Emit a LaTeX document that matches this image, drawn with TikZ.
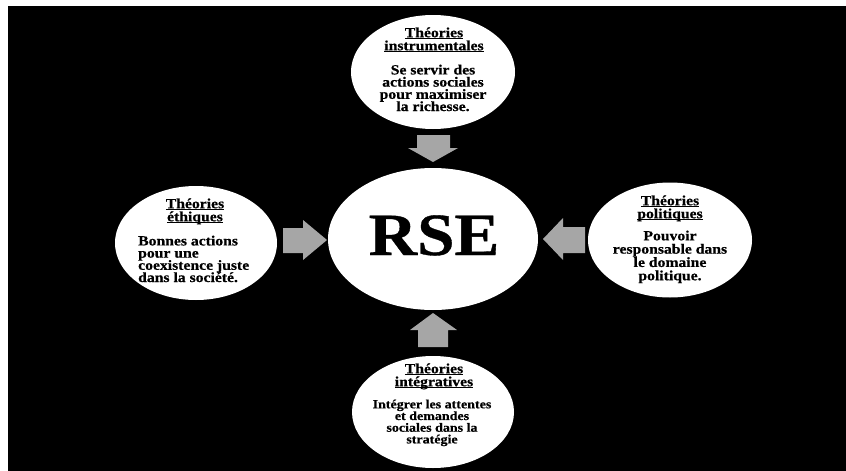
\documentclass[tikz,border=0pt]{standalone}
\usepackage{fontspec}
\setmainfont{Liberation Serif}[FakeStretch=1.12, BoldFeatures={FakeBold=0.6}]
\usetikzlibrary{shapes.geometric}
\definecolor{arrowgray}{HTML}{A6A6A6}
\newcommand\myul[1]{\setbox0\hbox{#1}\rlap{\rule[-2.2pt]{\wd0}{1.1pt}}\box0}
\begin{document}
\begin{tikzpicture}[x=1pt,y=-1pt,
  bubble/.style={ellipse, fill=white, inner sep=0pt},
  ttl/.style={anchor=north, align=center, inner sep=0pt,
    font={\bfseries\fontsize{14}{13}\selectfont\lineskiplimit=-20pt\lineskip=0pt}},
  bodytxt/.style={anchor=north, align=center, inner sep=0pt,
    font={\bfseries\fontsize{14}{12.2}\selectfont\lineskiplimit=-20pt\lineskip=0pt}},
  blockarrow/.style={fill=arrowgray}]
\useasboundingbox (0,0) rectangle (846,471);
\fill[white] (0,0) rectangle (846,471);
\fill[black] (8,6) rectangle (846,471);

% ellipses
\node[bubble, minimum width=210, minimum height=142] (rse) at (433,239) {};
\node[bubble, minimum width=164, minimum height=114] (top) at (433,72) {};
\node[bubble, minimum width=162, minimum height=114] (left) at (196,243) {};
\node[bubble, minimum width=164, minimum height=115] (right) at (670,240) {};
\node[bubble, minimum width=162, minimum height=112] (bottom) at (433,412) {};

% centre text
\node[anchor=base, inner sep=0pt, font={\bfseries\fontsize{60}{60}\selectfont}] (rsetxt) at (434,255) {RSE};

% top
\node[ttl] (toptitle) at (434,27.3) {\myul{Théories}\\\myul{instrumentales}};
\node[bodytxt] (topbody) at (433,64.5) {Se servir des\\actions sociales\\pour maximiser\\la richesse.};

% left
\node[ttl] (lefttitle) at (195,198.3) {\myul{Théories}\\\myul{éthiques}};
\node[bodytxt, anchor=north west, align=left] (leftbody) at (138,235.5)
  {Bonnes actions\\pour une\\coexistence juste\\dans la société.};

% right
\node[ttl] (righttitle) at (670,195.3) {\myul{Théories}\\\myul{politiques}};
\node[bodytxt, font={\bfseries\fontsize{14}{13.3}\selectfont\lineskiplimit=-20pt\lineskip=0pt}]
  (rightbody) at (670,230.4) {Pouvoir\\responsable dans\\le domaine\\politique.};

% bottom
\node[ttl] (bottomtitle) at (434,363.3) {\myul{Théories}\\\myul{intégratives}};
\node[bodytxt, font={\bfseries\fontsize{12.5}{11.7}\selectfont\lineskiplimit=-20pt\lineskip=0pt}]
  (bottombody) at (432,399.4) {Intégrer les attentes\\et demandes\\sociales dans la\\stratégie};

% block arrows
\path[blockarrow] (417,135) -- (450,135) -- (450,148) -- (458,148) -- (433,162) -- (408,148) -- (417,148) -- cycle;
\path[blockarrow] (433,313) -- (457,330) -- (448,330) -- (448,347) -- (418,347) -- (418,330) -- (410,330) -- cycle;
\path[blockarrow] (283,228) -- (303,228) -- (303,220) -- (327,240) -- (303,260) -- (303,253) -- (283,253) -- cycle;
\path[blockarrow] (543,239) -- (563,218) -- (563,227) -- (585,227) -- (585,253) -- (563,253) -- (563,260) -- cycle;
\end{tikzpicture}
\end{document}
